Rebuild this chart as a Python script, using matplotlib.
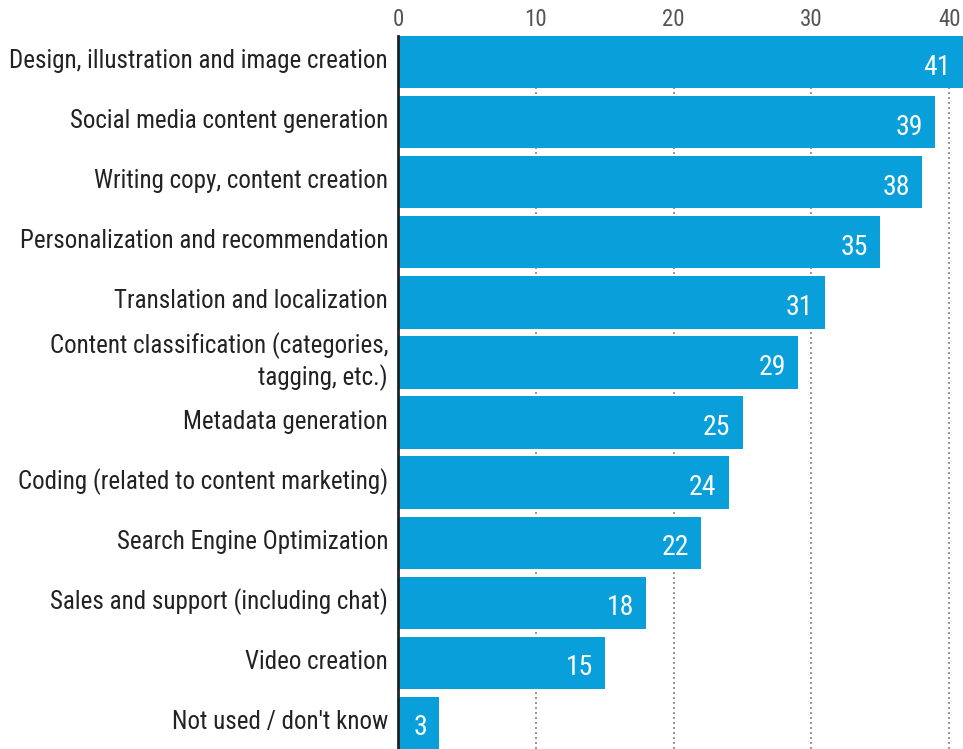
import matplotlib
matplotlib.use("Agg")
import matplotlib.pyplot as plt
from matplotlib import font_manager
from matplotlib.transforms import blended_transform_factory, ScaledTranslation

categories = [
    "Design, illustration and image creation",
    "Social media content generation",
    "Writing copy, content creation",
    "Personalization and recommendation",
    "Translation and localization",
    "Content classification (categories,\ntagging, etc.)",
    "Metadata generation",
    "Coding (related to content marketing)",
    "Search Engine Optimization",
    "Sales and support (including chat)",
    "Video creation",
    "Not used / don't know",
]
values = [41, 39, 38, 35, 31, 29, 25, 24, 22, 18, 15, 3]
ticks = [0, 10, 20, 30, 40]


def pick_font():
    # prefer a narrow face, the reference uses a condensed grotesque
    fonts = font_manager.fontManager.ttflist
    names = {f.name for f in fonts}
    for n in ["Liberation Sans Narrow", "Roboto Condensed", "Open Sans Condensed",
              "Noto Sans Condensed", "DejaVu Sans Condensed"]:
        if n in names:
            return n, "normal"
    for f in fonts:
        st = f.stretch if isinstance(f.stretch, str) else str(f.stretch)
        if "condensed" in st and f.name in ("DejaVu Sans", "Noto Sans", "Roboto", "Open Sans"):
            return f.name, "condensed"
    return "DejaVu Sans", "normal"


family, stretch = pick_font()
plt.rcParams["font.family"] = [family, "DejaVu Sans"]
plt.rcParams["font.stretch"] = stretch

W, H = 963, 749
fig = plt.figure(figsize=(W / 100, H / 100), dpi=100)
renderer = fig.canvas.get_renderer()


def size_for(text, target_px, ref=20):
    t = fig.text(0, 0, text, fontsize=ref, fontstretch=stretch)
    w = t.get_window_extent(renderer).width
    t.remove()
    return ref * target_px / w


label_fs = size_for(categories[0], 378)
value_fs = 20
tick_fs = 16.5
px = 1 / 100  # inches per pixel

ax = fig.add_axes([398 / W, 0, 1 - 398 / W, 1 - 36 / H])

bar_h = 0.87
y = list(range(len(values)))
ax.barh(y, values, height=bar_h, color="#089fda", zorder=2)

for yi, v in zip(y, values):
    ax.annotate(str(v), (v, yi), xytext=(-12 * 0.72, -12.5 * 0.72), textcoords="offset points",
                ha="right", va="baseline", color="white", fontsize=value_fs, zorder=3)

ax.set_xlim(0, 41)
ax.set_ylim(len(values) - 1 + bar_h / 2, -bar_h / 2)

# category labels, nudged a little above the bar centre like the original
lab_tr = blended_transform_factory(ax.transAxes, ax.transData) + \
    ScaledTranslation(-10 * px, 1 * px, fig.dpi_scale_trans)
for yi, c in zip(y, categories):
    ax.text(0, yi, c, transform=lab_tr, ha="right", va="center", fontsize=label_fs,
            color="#222222", linespacing=1.25)
ax.set_yticks([])

ax.xaxis.tick_top()
ax.set_xticks(ticks)
ax.set_xticklabels([str(t) for t in ticks], fontsize=tick_fs, color="#555555")
ax.tick_params(axis="x", length=0, pad=5 * 0.72)

for t in ticks[1:]:
    ax.axvline(t, color="#999999", linestyle=(0, (1, 1.5)), linewidth=2 * 0.72, zorder=1)

for s in ["top", "right", "bottom"]:
    ax.spines[s].set_visible(False)
ax.spines["left"].set_color("#222222")
ax.spines["left"].set_linewidth(2)
ax.spines["left"].set_zorder(4)

fig.savefig("out.png", dpi=100)
